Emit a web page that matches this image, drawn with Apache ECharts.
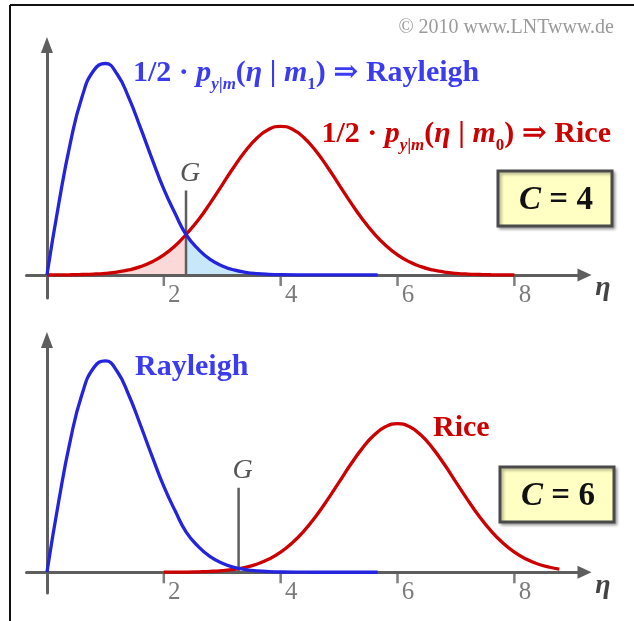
<!DOCTYPE html>
<html>
<head>
<meta charset="utf-8">
<script src="https://cdn.jsdelivr.net/npm/echarts@6/dist/echarts.min.js"></script>
<style>
  html, body { margin: 0; padding: 0; background: #fff; }
  #chart { width: 634px; height: 621px; }
</style>
</head>
<body>
<div id="chart"></div>
<script>
// Rayleigh density 1/2·p(η|m1), identical in both panels
const etaRayleigh = [0, 0.2, 0.4, 0.6, 0.8, 1.0, 1.2, 1.4, 1.6, 1.8, 2.0, 2.2, 2.38, 2.6, 2.8, 3.0, 3.2, 3.4, 3.6, 3.8, 4.0, 4.4, 4.8, 5.66];
const rayleigh    = [0, 0.101, 0.189, 0.255, 0.293, 0.303, 0.288, 0.254, 0.211, 0.166, 0.123, 0.087, 0.058, 0.036, 0.022, 0.013, 0.0072, 0.0038, 0.0019, 0.0009, 0.0004, 0.0001, 0, 0];

// Rice density 1/2·p(η|m0) for C = 4
const etaRiceC4 = [0, 0.2, 0.4, 0.6, 0.8, 1.0, 1.2, 1.4, 1.6, 1.8, 2.0, 2.2, 2.38, 2.6, 2.8, 3.0, 3.2, 3.4, 3.6, 3.8, 4.0,
                   4.2, 4.4, 4.6, 4.8, 5.0, 5.2, 5.4, 5.6, 5.8, 6.0, 6.2, 6.4, 6.6, 6.8, 7.0, 7.2, 7.4, 7.6, 7.8, 8.0];
const riceC4    = [0, 0.0002, 0.0003, 0.0007, 0.0013, 0.0024, 0.0042, 0.0072, 0.0119, 0.0189, 0.0288, 0.0422, 0.058, 0.0799, 0.1037, 0.1292, 0.1547, 0.1779, 0.1966, 0.2088, 0.213,
                   0.2088, 0.1966, 0.1779, 0.1547, 0.1292, 0.1037, 0.0799, 0.0592, 0.0422, 0.0288, 0.0189, 0.0119, 0.0072, 0.0042, 0.0024, 0.0013, 0.0007, 0.0003, 0.0002, 0.0001];

// Rice density 1/2·p(η|m0) for C = 6
const etaRiceC6 = [2.0, 2.2, 2.4, 2.6, 2.8, 3.0, 3.2, 3.4, 3.6, 3.8, 4.0, 4.2, 4.4, 4.6, 4.8, 5.0, 5.2, 5.4, 5.6, 5.8, 6.0,
                   6.2, 6.4, 6.6, 6.8, 7.0, 7.2, 7.4, 7.6, 7.8, 8.0, 8.2, 8.4, 8.6, 8.77];
const riceC6    = [0.0001, 0.0002, 0.0003, 0.0007, 0.0013, 0.0024, 0.0042, 0.0072, 0.0119, 0.0189, 0.0288, 0.0422, 0.0592, 0.0799, 0.1037, 0.1292, 0.1547, 0.1779, 0.1966, 0.2088, 0.213,
                   0.2088, 0.1966, 0.1779, 0.1547, 0.1292, 0.1037, 0.0799, 0.0592, 0.0422, 0.0288, 0.0189, 0.0119, 0.0072, 0.0046];

// decision thresholds G and the height of their markers
const thresholdC4 = 2.38;
const thresholdC6 = 3.28;
const thresholdHeight = 0.121;

// η-axis tick positions and their labels
const tickValues = [2, 4, 6, 8];
const tickLabels = ['2', '4', '6', '8'];

const BLUE = '#2424de';
const BLUE_TEXT = '#3b3bf2';
const RED = '#cc0000';
const AXIS = '#5e5e5e';
const SERIF = '"Liberation Serif", "Times New Roman", "DejaVu Serif", serif';

const pairs = (xs, ys) => xs.map((x, i) => [x, ys[i]]);
const rayleighPts = pairs(etaRayleigh, rayleigh);
const riceC4Pts = pairs(etaRiceC4, riceC4);
const riceC6Pts = pairs(etaRiceC6, riceC6);

function xAxisFor(gridIndex) {
  return {
    type: 'value', gridIndex, min: -0.35, max: 9.2, z: 1.5,
    splitLine: { show: false },
    axisTick: { show: false },
    axisLabel: { show: false },
    axisLine: {
      show: true, onZero: true,
      symbol: ['none', 'triangle'], symbolSize: [13, 14],
      lineStyle: { color: AXIS, width: 3 }
    }
  };
}
function yAxisFor(gridIndex, min, max) {
  return {
    type: 'value', gridIndex, min, max, z: 1.5,
    splitLine: { show: false },
    axisTick: { show: false },
    axisLabel: { show: false },
    axisLine: {
      show: true, onZero: true,
      symbol: ['none', 'triangle'], symbolSize: [12, 16],
      lineStyle: { color: AXIS, width: 3 }
    }
  };
}

// tick marks hanging below the η axis, labelled to their right
function ticks(idx) {
  return {
    type: 'scatter', xAxisIndex: idx, yAxisIndex: idx, z: 2,
    symbol: 'rect', symbolSize: [2.5, 11], symbolOffset: [0, 5.5],
    itemStyle: { color: AXIS },
    label: {
      show: true, position: 'right', distance: 3, offset: [0, 15],
      formatter: p => tickLabels[p.dataIndex],
      fontFamily: SERIF, fontSize: 25, color: '#5a5a5a'
    },
    data: tickValues.map(v => [v, 0])
  };
}

function curve(data, color, idx) {
  return {
    type: 'line', data, xAxisIndex: idx, yAxisIndex: idx, smooth: true,
    symbol: 'none', z: 3, lineStyle: { color, width: 3.3 }
  };
}
function shade(data, color) {
  return {
    type: 'line', data, xAxisIndex: 0, yAxisIndex: 0, smooth: true,
    symbol: 'none', z: 1, lineStyle: { width: 0 }, areaStyle: { color, opacity: 1 }
  };
}
function threshold(g, idx) {
  return {
    type: 'line', xAxisIndex: idx, yAxisIndex: idx, z: 2,
    symbol: 'circle', symbolSize: 0, showSymbol: true,
    lineStyle: { color: AXIS, width: 2.5 },
    itemStyle: { color: AXIS },
    label: { show: false },
    data: [
      [g, 0],
      { value: [g, thresholdHeight],
        label: { show: true, formatter: 'G', position: 'top', distance: 3, offset: [4, 0],
                 fontFamily: SERIF, fontStyle: 'italic', fontSize: 28, color: '#555' } }
    ]
  };
}

function formula(color, sub) {
  const b = { fontFamily: SERIF, fontWeight: 'bold', fontSize: 30, fill: color, lineHeight: 40 };
  return {
    text: '{b|1/2 · }{bi|p}{s|y|m}{b|(}{bi|η}{b| | }{bi|m}{sn|' + sub + '}{b|)}',
    rich: {
      b: b,
      bi: Object.assign({}, b, { fontStyle: 'italic' }),
      s: { fontFamily: SERIF, fontStyle: 'italic', fontWeight: 'bold', fontSize: 17, fill: color, lineHeight: 17, verticalAlign: 'bottom' },
      sn: { fontFamily: SERIF, fontWeight: 'bold', fontSize: 17, fill: color, lineHeight: 17, verticalAlign: 'bottom' }
    }
  };
}
function labelText(x, y, str, color, sub, align) {
  const f = formula(color, sub);
  return {
    type: 'text', x, y,
    style: {
      text: f.text + '{b| ⇒ ' + str + '}',
      rich: f.rich, align: align || 'left', verticalAlign: 'middle'
    }
  };
}
function cBox(x, y, value) {
  return {
    type: 'group', x, y,
    children: [
      { type: 'rect', shape: { x: 0, y: 0, width: 114, height: 55 },
        style: { fill: '#ffffc4', stroke: '#4a4a4a', lineWidth: 3,
                 shadowBlur: 3, shadowOffsetX: 2, shadowOffsetY: 2, shadowColor: 'rgba(0,0,0,0.3)' } },
      { type: 'text', x: 58, y: 29,
        style: {
          text: '{i|C}{b| = ' + value + '}', align: 'center', verticalAlign: 'middle',
          rich: {
            i: { fontFamily: SERIF, fontWeight: 'bold', fontStyle: 'italic', fontSize: 33, fill: '#111' },
            b: { fontFamily: SERIF, fontWeight: 'bold', fontSize: 33, fill: '#111' }
          }
        } }
    ]
  };
}
function etaName(y) {
  return { type: 'text', x: 603, y,
    style: { text: 'η', fontFamily: SERIF, fontStyle: 'italic', fontWeight: 'bold', fontSize: 28,
             fill: '#444', align: 'center', verticalAlign: 'middle' } };
}

const chart = echarts.init(document.getElementById('chart'), null, { renderer: 'canvas' });
chart.setOption({
  animation: false,
  backgroundColor: '#ffffff',
  grid: [
    { left: 26.5, width: 558, top: 45, height: 253 },
    { left: 26.5, width: 558, top: 340, height: 253 }
  ],
  xAxis: [xAxisFor(0), xAxisFor(1)],
  yAxis: [yAxisFor(0, -0.033, 0.3295), yAxisFor(1, -0.0297, 0.3328)],
  series: [
    shade(riceC4Pts.filter(p => p[0] <= thresholdC4), '#fcd9d9'),
    shade(rayleighPts.filter(p => p[0] >= thresholdC4), '#c8e7fa'),
    ticks(0),
    threshold(thresholdC4, 0),
    curve(riceC4Pts, RED, 0),
    curve(rayleighPts, BLUE, 0),
    ticks(1),
    threshold(thresholdC6, 1),
    curve(riceC6Pts, RED, 1),
    curve(rayleighPts, BLUE, 1)
  ],
  graphic: [
    { type: 'line', shape: { x1: 10, y1: 5, x2: 634, y2: 5 }, style: { stroke: '#111', lineWidth: 2 } },
    { type: 'line', shape: { x1: 10, y1: 5, x2: 10, y2: 621 }, style: { stroke: '#111', lineWidth: 2 } },
    { type: 'text', x: 614, y: 28,
      style: { text: '© 2010 www.LNTwww.de', fontFamily: SERIF, fontSize: 20, fill: '#9a9a9a',
               align: 'right', verticalAlign: 'middle' } },
    labelText(133, 73, 'Rayleigh', BLUE_TEXT, '1'),
    labelText(611, 134, 'Rice', RED, '0', 'right'),
    cBox(498, 171, 4),
    cBox(500, 467, 6),
    etaName(288),
    etaName(586),
    { type: 'text', x: 135, y: 367,
      style: { text: 'Rayleigh', fontFamily: SERIF, fontWeight: 'bold', fontSize: 30, fill: BLUE_TEXT,
               align: 'left', verticalAlign: 'middle' } },
    { type: 'text', x: 433, y: 428,
      style: { text: 'Rice', fontFamily: SERIF, fontWeight: 'bold', fontSize: 30, fill: RED,
               align: 'left', verticalAlign: 'middle' } }
  ]
});
</script>
</body>
</html>
